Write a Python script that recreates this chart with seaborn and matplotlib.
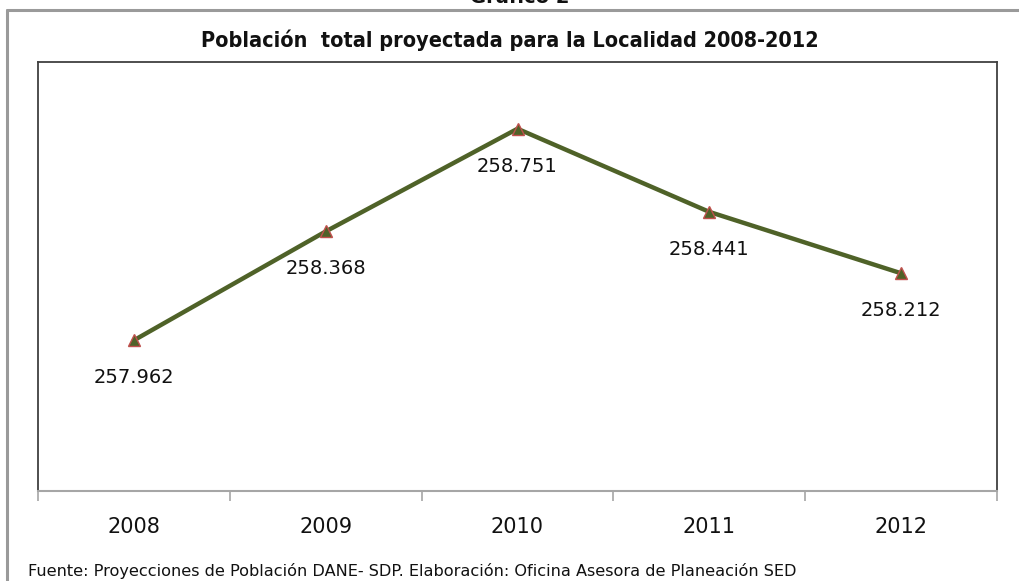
import matplotlib
matplotlib.use("Agg")
import matplotlib.pyplot as plt
from matplotlib.lines import Line2D
import seaborn as sns
import pandas as pd
import numpy as np

years = ["2008", "2009", "2010", "2011", "2012"]
population = [257962, 258368, 258751, 258441, 258212]
labels = ["257.962", "258.368", "258.751", "258.441", "258.212"]

title = "Población  total proyectada para la Localidad 2008-2012"
source = "Fuente: Proyecciones de Población DANE- SDP. Elaboración: Oficina Asesora de Planeación SED"
header = "Gráfico 2"

sns.set_theme(style="white")
plt.rcParams['font.family'] = ['DejaVu Sans']

df = pd.DataFrame({"pos": np.arange(len(years)), "year": years, "pop": population})

fig = plt.figure(figsize=(10.2, 5.81), dpi=100)
ax = fig.add_axes([38/1020, 1-491/581, (997-38)/1020, (491-62)/581])

sns.lineplot(data=df, x="pos", y="pop", ax=ax, color="#4f6228", linewidth=3.2,
             marker="^", markersize=9, markerfacecolor="#4f6228",
             markeredgecolor="#c0504d", markeredgewidth=1.0)

ax.set_xlim(-0.5, len(years) - 0.5)
ax.set_ylim(257400, 259000)
ax.set_xlabel("")
ax.set_ylabel("")
ax.set_yticks([])

ax.set_xticks(np.arange(-0.5, len(years), 1.0))
ax.set_xticklabels([])
ax.set_xticks(np.arange(len(years)), minor=True)
ax.set_xticklabels(years, minor=True, fontsize=15, color="#111111")
ax.tick_params(axis="x", which="major", length=7, width=1.2, color="#a6a6a6", direction="out", bottom=True)
ax.tick_params(axis="x", which="minor", length=0, pad=19, bottom=True)

for side in ["top", "left", "right"]:
    ax.spines[side].set_color("#404040")
    ax.spines[side].set_linewidth(1.3)
ax.spines["bottom"].set_color("#a6a6a6")
ax.spines["bottom"].set_linewidth(1.5)

for x, y, lab in zip(df["pos"], population, labels):
    ax.annotate(lab, (x, y), xytext=(0, -27), textcoords="offset points",
                ha="center", va="center", fontsize=14, color="#111111")

fig.text(0.5, 1 - 40/581, title, ha="center", va="center", fontsize=15.5,
         fontweight="bold", fontstretch="condensed", color="#111111")
fig.text(520/1020, 1 - 3/581, header, ha="center", va="baseline", fontsize=14,
         fontweight="bold", color="#111111")
fig.text(28/1020, 1 - 579/581, source, ha="left", va="bottom", fontsize=11.6, color="#111111")

fig.add_artist(Line2D([7/1020, 7/1020], [0, 1 - 10/581], color="#9a9a9a", linewidth=2.2,
                      transform=fig.transFigure))
fig.add_artist(Line2D([7/1020, 1], [1 - 10/581, 1 - 10/581], color="#9a9a9a", linewidth=2.2,
                      transform=fig.transFigure))

fig.savefig("out.png", dpi=100, facecolor="white")
